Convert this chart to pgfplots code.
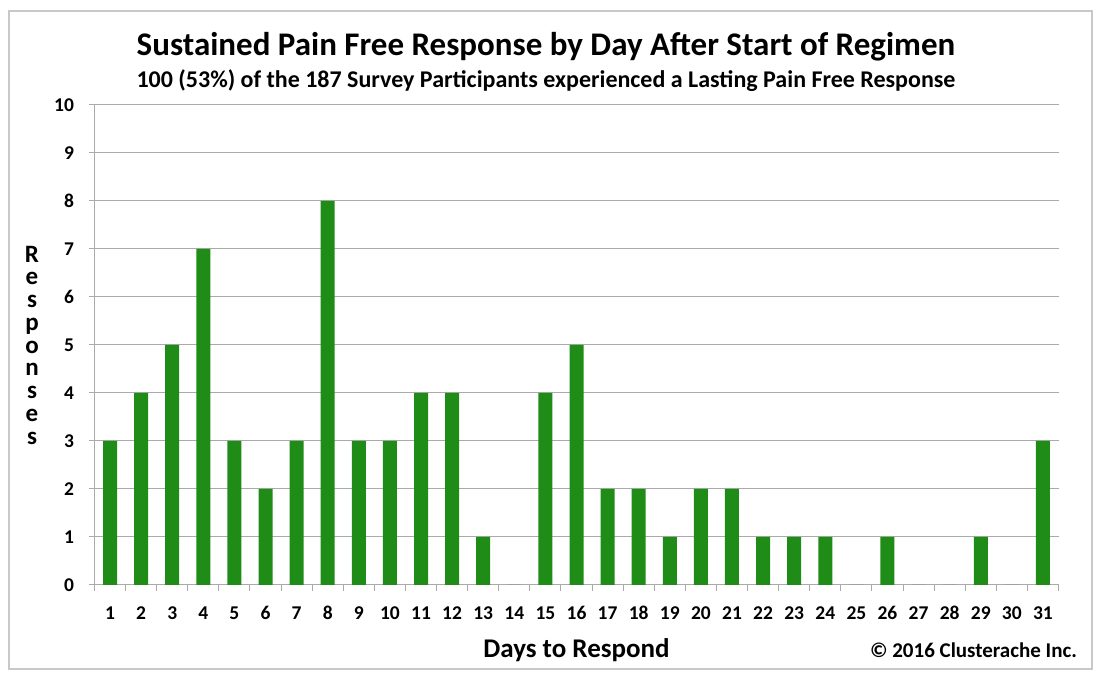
\documentclass[border=0pt]{standalone}
\usepackage{pgfplots}
\pgfplotsset{compat=1.18}
\usepackage{fontspec}
\setmainfont{Carlito}
\definecolor{bargreen}{RGB}{30,140,22}
\definecolor{gridgray}{RGB}{170,170,170}
\definecolor{framegray}{RGB}{200,200,200}
\begin{document}
\begin{tikzpicture}[x=1bp,y=1bp]
\path[use as bounding box] (0,0) rectangle (1099,677);
\draw[framegray, line width=1.2bp] (9,8) rectangle (1092,666);
\begin{axis}[
  at={(94.5bp,92bp)}, anchor=south west,
  scale only axis, width=964bp, height=480bp,
  xmin=0.5, xmax=31.5, ymin=0, ymax=10,
  ybar, bar width=14bp, bar shift=0pt,
  axis x line*=bottom, axis y line*=left,
  axis line style={gridgray, line width=1bp},
  xtick={1,...,31},
  major x tick style={draw=none},
  minor xtick={0.5,1.5,...,31.5},
  minor x tick style={gridgray, line width=1bp},
  minor tick length=6bp,
  ytick={0,1,...,10},
  y tick style={gridgray, line width=1bp},
  major tick length=6bp,
  tick align=outside,
  ymajorgrids=true,
  grid style={gridgray, line width=1bp},
  xticklabel={\fontsize{19.5bp}{22bp}\selectfont\bfseries\pgfmathprintnumber[assume math mode=true]{\tick}},
  yticklabel={\fontsize{19.5bp}{22bp}\selectfont\bfseries\pgfmathprintnumber[assume math mode=true]{\tick}},
  xticklabel style={yshift=-12bp, text=black},
  yticklabel style={xshift=-11bp, text=black},
  xlabel={Days to Respond},
  xlabel style={at={(axis description cs:0.5,0)}, anchor=center, yshift=-65bp, font=\bfseries\fontsize{27bp}{30bp}\selectfont},
  ylabel={R\\e\\s\\p\\o\\n\\s\\e\\s},
  ylabel style={at={(axis description cs:0,0.5)}, anchor=center, rotate=-90, xshift=-62.5bp, align=center, font=\bfseries\fontsize{25bp}{22.75bp}\selectfont},
]
\addplot[fill=bargreen, draw=none] coordinates {
(1,3) (2,4) (3,5) (4,7) (5,3) (6,2) (7,3) (8,8) (9,3) (10,3)
(11,4) (12,4) (13,1) (14,0) (15,4) (16,5) (17,2) (18,2) (19,1) (20,2)
(21,2) (22,1) (23,1) (24,1) (25,0) (26,1) (27,0) (28,0) (29,1) (30,0) (31,3)
};
\end{axis}
\node[font=\bfseries\fontsize{33bp}{36bp}\selectfont] at (546,630) {Sustained Pain Free Response by Day After Start of Regimen};
\node[font=\bfseries\fontsize{24bp}{26bp}\selectfont] at (546,596) {100 (53\%) of the 187 Survey Participants experienced a Lasting Pain Free Response};
\node[font=\bfseries\fontsize{21bp}{24bp}\selectfont] at (973.5,27) {© 2016 Clusterache Inc.};
\end{tikzpicture}
\end{document}
